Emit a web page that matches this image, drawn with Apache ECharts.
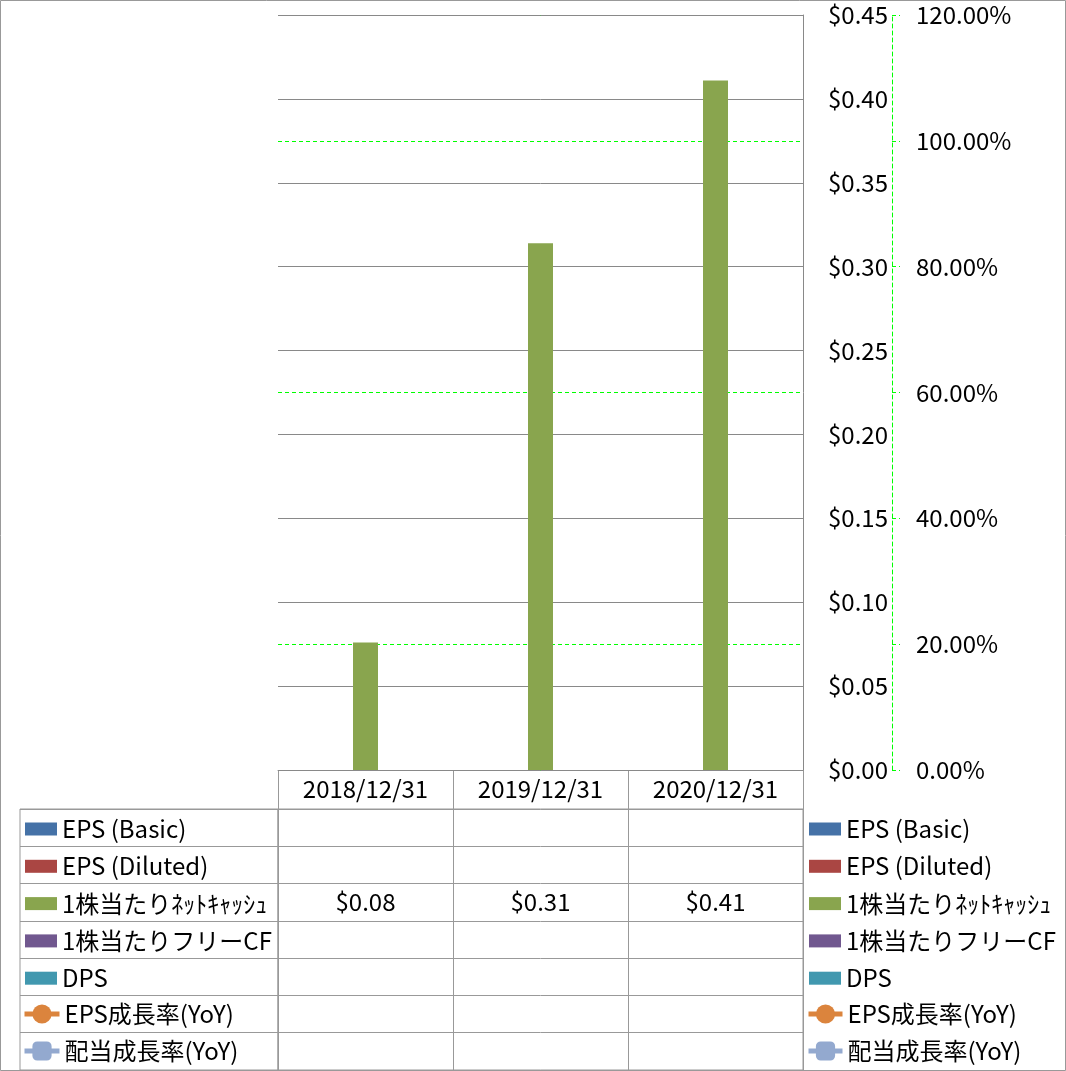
<!DOCTYPE html>
<html>
<head>
<meta charset="utf-8">
<script src="https://cdn.jsdelivr.net/npm/echarts@6/dist/echarts.min.js"></script>
<style>
html,body{margin:0;padding:0;background:#fff;}
#chart{width:1066px;height:1071px;}
</style>
</head>
<body>
<div id="chart"></div>
<script>
const categories = ['2018/12/31', '2019/12/31', '2020/12/31'];
const seriesNames = ['EPS (Basic)', 'EPS (Diluted)', '1株当たりﾈｯﾄｷｬｯｼｭ', '1株当たりフリーCF', 'DPS', 'EPS成長率(YoY)', '配当成長率(YoY)'];
const epsBasic = [null, null, null];
const epsDiluted = [null, null, null];
const netCashPerShare = [0.076, 0.314, 0.411];
const freeCfPerShare = [null, null, null];
const dps = [null, null, null];
const epsGrowth = [null, null, null];
const dividendGrowth = [null, null, null];
const usdAxis = { min: 0, max: 0.45, interval: 0.05 };
const pctAxis = { min: 0, max: 1.2, interval: 0.2 };

const colors = ['#4572A7', '#AA4643', '#89A54E', '#71588F', '#4198AF', '#DB843D', '#93A9CF'];
const FONT = '"Noto Sans CJK JP", "Noto Sans", sans-serif';
const FS = 24;
const LINE = '#999999';
const GRID = '#898989';
const LIME = '#00FF00';

const barValues = [epsBasic, epsDiluted, netCashPerShare, freeCfPerShare, dps];
const lineValues = [epsGrowth, dividendGrowth];

const series = [];
barValues.forEach((vals, i) => {
  series.push({
    name: seriesNames[i], type: 'bar', xAxisIndex: 0, yAxisIndex: 0,
    barWidth: 25, barGap: '0%', data: vals,
    itemStyle: { color: colors[i] }
  });
});
lineValues.forEach((vals, j) => {
  const i = 5 + j;
  series.push({
    name: seriesNames[i], type: 'line', xAxisIndex: 0, yAxisIndex: 1,
    data: vals, symbol: j === 0 ? 'circle' : 'roundRect', symbolSize: 19,
    lineStyle: { color: colors[i], width: 5 },
    itemStyle: { color: colors[i] }
  });
});

// data table values
const tableData = [];
const allValues = [epsBasic, epsDiluted, netCashPerShare, freeCfPerShare, dps, epsGrowth, dividendGrowth];
allValues.forEach((vals, r) => {
  vals.forEach((v, c) => {
    if (v !== null && v !== undefined) {
      const txt = r < 5 ? '$' + v.toFixed(2) : (v * 100).toFixed(2) + '%';
      tableData.push({ value: [categories[c], seriesNames[r]], txt: txt });
    }
  });
});
series.push({
  type: 'scatter', xAxisIndex: 1, yAxisIndex: 2, symbolSize: 0, silent: true,
  itemStyle: { opacity: 1 },
  data: tableData,
  label: {
    show: true, position: 'inside', color: '#000', opacity: 1, fontFamily: FONT, fontSize: FS,
    formatter: p => p.data.txt
  }
});

const legendText = { color: '#000', fontFamily: FONT, fontSize: FS, lineHeight: 24 };
function legendBar(left) {
  return {
    orient: 'vertical', left: left, top: 817, itemWidth: 32, itemHeight: 13, itemGap: 13.3,
    selectedMode: false, padding: 0, icon: 'rect',
    data: seriesNames.slice(0, 5), textStyle: legendText
  };
}
function legendLine(left, w) {
  return {
    orient: 'vertical', left: left, top: 1002, itemWidth: w, itemHeight: 24, itemGap: 13,
    selectedMode: false, padding: 0,
    lineStyle: { width: 5 },
    data: seriesNames.slice(5), textStyle: legendText
  };
}

const option = {
  animation: false,
  backgroundColor: '#fff',
  textStyle: { fontFamily: FONT },
  graphic: [{
    type: 'rect', silent: true, z: 100,
    shape: { x: 0.5, y: 0.5, width: 1065, height: 1070 },
    style: { fill: 'none', stroke: LINE, lineWidth: 1 }
  }],
  legend: [legendBar(25), legendLine(22, 35), legendBar(809), legendLine(806, 34)],
  grid: [
    { left: 278, width: 525, top: 15, height: 755 },
    { left: 278, width: 525, top: 809, height: 261, show: true, borderColor: LINE, borderWidth: 1 },
    { left: 20, width: 258, top: 809, height: 261, show: true, borderColor: LINE, borderWidth: 1 }
  ],
  xAxis: [
    {
      type: 'category', gridIndex: 0, data: categories,
      axisLine: { show: true, lineStyle: { color: LINE, width: 1 } },
      axisTick: { show: true, length: 39, interval: 0, lineStyle: { color: LINE } },
      axisLabel: { show: true, margin: 7, color: '#000', fontFamily: FONT, fontSize: FS, interval: 0 },
      splitLine: { show: false }
    },
    {
      type: 'category', gridIndex: 1, data: categories,
      axisLine: { show: false }, axisTick: { show: false }, axisLabel: { show: false },
      splitLine: { show: true, interval: 0, lineStyle: { color: LINE, width: 1 } }
    },
    {
      type: 'category', gridIndex: 2, data: ['label'],
      axisLine: { show: false }, axisTick: { show: false }, axisLabel: { show: false },
      splitLine: { show: false }
    }
  ],
  yAxis: [
    {
      type: 'value', gridIndex: 0, position: 'right', z: 2,
      min: usdAxis.min, max: usdAxis.max, interval: usdAxis.interval,
      axisLine: { show: true, lineStyle: { color: GRID, width: 1 } },
      axisTick: { show: false },
      axisLabel: { margin: 25, color: '#000', fontFamily: FONT, fontSize: FS, formatter: v => '$' + v.toFixed(2) },
      splitLine: { show: true, lineStyle: { color: GRID, width: 1 } }
    },
    {
      type: 'value', gridIndex: 0, position: 'right', offset: 89, z: 1,
      min: pctAxis.min, max: pctAxis.max, interval: pctAxis.interval,
      axisLine: { show: true, lineStyle: { color: LIME, width: 1, type: [4, 3] } },
      axisTick: { show: true, length: 8, lineStyle: { color: LIME, width: 1, type: [4, 3] } },
      axisLabel: { margin: 24, color: '#000', fontFamily: FONT, fontSize: FS, formatter: v => (v * 100).toFixed(2) + '%' },
      splitLine: { show: true, lineStyle: { color: LIME, width: 1, type: [4, 3] } }
    },
    {
      type: 'category', gridIndex: 1, data: seriesNames, inverse: true,
      axisLine: { show: false }, axisTick: { show: false }, axisLabel: { show: false },
      splitLine: { show: true, interval: 0, lineStyle: { color: LINE, width: 1 } }
    },
    {
      type: 'category', gridIndex: 2, data: seriesNames, inverse: true,
      axisLine: { show: false }, axisTick: { show: false }, axisLabel: { show: false },
      splitLine: { show: true, interval: 0, lineStyle: { color: LINE, width: 1 } }
    }
  ],
  series: series
};

const chart = echarts.init(document.getElementById('chart'), null, { renderer: 'canvas' });
chart.setOption(option);
</script>
</body>
</html>
